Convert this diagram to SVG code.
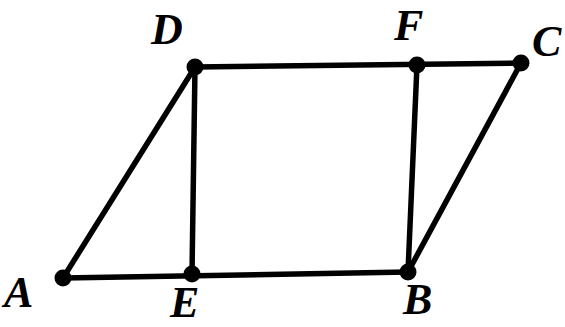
<svg xmlns="http://www.w3.org/2000/svg" width="565" height="327" viewBox="0 0 565 327">
<style>
.ln{stroke:#000;stroke-width:5.5;fill:none;stroke-linecap:round}
.pt{fill:#000}
.lb{font-family:"Liberation Serif","Times New Roman",serif;font-style:italic;font-weight:bold;font-size:44px;fill:#000}
</style>
<rect width="565" height="327" fill="#fff"/>
<g id="connectors">
<line class="ln" x1="63" y1="278" x2="195" y2="67"/>
<line class="ln" x1="195" y1="67" x2="521" y2="63"/>
<line class="ln" x1="63" y1="278" x2="408" y2="272"/>
<line class="ln" x1="408" y1="272" x2="521" y2="63"/>
<line class="ln" x1="195" y1="67" x2="192" y2="274"/>
<line class="ln" x1="417" y1="65" x2="408" y2="272"/>
</g>
<g id="A"><circle class="pt" cx="63" cy="278" r="8.5"/><text class="lb" x="4" y="307">A</text></g>
<g id="D"><circle class="pt" cx="195" cy="67" r="8.5"/><text class="lb" x="151" y="44">D</text></g>
<g id="F"><circle class="pt" cx="417" cy="65" r="8.5"/><text class="lb" x="394" y="40">F</text></g>
<g id="C"><circle class="pt" cx="521" cy="63" r="8.5"/><text class="lb" x="532" y="56">C</text></g>
<g id="E"><circle class="pt" cx="192" cy="274" r="8.5"/><text class="lb" x="170" y="317">E</text></g>
<g id="B"><circle class="pt" cx="408" cy="272" r="8.5"/><text class="lb" x="403" y="314">B</text></g>
</svg>
